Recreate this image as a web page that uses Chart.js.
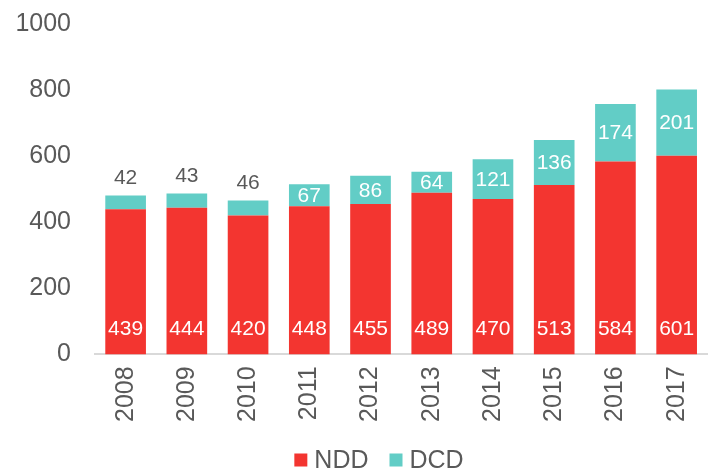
<!DOCTYPE html>
<html>
<head>
<meta charset="utf-8">
<script src="https://cdn.jsdelivr.net/npm/chart.js@4/dist/chart.umd.min.js"></script>
<style>
  html, body { margin: 0; padding: 0; background: #fff; }
  #wrap { width: 719px; height: 473px; }
</style>
</head>
<body>
<div id="wrap"><canvas id="c"></canvas></div>
<script>
const years = ["2008", "2009", "2010", "2011", "2012", "2013", "2014", "2015", "2016", "2017"];
const ndd = [439, 444, 420, 448, 455, 489, 470, 513, 584, 601];
const dcd = [42, 43, 46, 67, 86, 64, 121, 136, 174, 201];
const yTicks = [0, 200, 400, 600, 800, 1000];

const RED = "#F33530";
const TEAL = "#62CDC6";
const TEXT = "#595959";
const FONT = "Arial, 'Liberation Sans', sans-serif";

// labels inside / above the bars
const barLabels = {
  id: "barLabels",
  afterDatasetsDraw(chart) {
    const ctx = chart.ctx;
    ctx.save();
    ctx.font = "21px " + FONT;
    ctx.textAlign = "center";
    ctx.textBaseline = "middle";
    const base = chart.scales.y.getPixelForValue(0);
    chart.getDatasetMeta(0).data.forEach((bar, i) => {
      ctx.fillStyle = "#fff";
      ctx.fillText(ndd[i], bar.x, base - 25);
    });
    chart.getDatasetMeta(1).data.forEach((bar, i) => {
      const h = bar.base - bar.y;
      if (h < 18) {
        ctx.fillStyle = TEXT;
        ctx.fillText(dcd[i], bar.x, bar.y - 17);
      } else {
        ctx.fillStyle = "#fff";
        ctx.fillText(dcd[i], bar.x, (bar.y + bar.base) / 2 + 1);
      }
    });
    ctx.restore();
  }
};

// legend drawn by hand, centred under the plot
const bottomLegend = {
  id: "bottomLegend",
  afterDraw(chart) {
    const ctx = chart.ctx;
    ctx.save();
    ctx.font = "25px " + FONT;
    ctx.textBaseline = "middle";
    const items = chart.data.datasets.map(ds => ({ text: ds.label, color: ds.backgroundColor }));
    const box = 13, gap = 7, between = 21;
    const widths = items.map(it => box + gap + ctx.measureText(it.text).width);
    const total = widths.reduce((a, b) => a + b, 0) + between * (items.length - 1);
    let x = 379 - total / 2;
    const y = 460;
    items.forEach((it, i) => {
      ctx.fillStyle = it.color;
      ctx.fillRect(x, y - box / 2, box, box);
      ctx.fillStyle = TEXT;
      ctx.fillText(it.text, x + box + gap, y + 1);
      x += widths[i] + between;
    });
    ctx.restore();
  }
};

new Chart(document.getElementById("c"), {
  type: "bar",
  data: {
    labels: years,
    datasets: [
      { label: "NDD", data: ndd, backgroundColor: RED },
      { label: "DCD", data: dcd, backgroundColor: TEAL }
    ]
  },
  options: {
    responsive: true,
    maintainAspectRatio: false,
    animation: false,
    layout: { padding: { left: 0, right: 7, top: 0, bottom: 39 } },
    datasets: { bar: { categoryPercentage: 0.8, barPercentage: 0.83 } },
    scales: {
      x: {
        stacked: true,
        grid: { display: false, drawTicks: false },
        border: { display: true, color: "#D9D9D9", width: 2 },
        ticks: {
          color: TEXT,
          font: { family: FONT, size: 25 },
          minRotation: 90,
          maxRotation: 90,
          padding: 12
        }
      },
      y: {
        stacked: true,
        min: 0,
        max: 1000,
        afterBuildTicks: (axis) => { axis.ticks = yTicks.map(v => ({ value: v })); },
        afterFit: (axis) => {
          axis.width = 95;
          axis.paddingTop = 24;
          axis.paddingBottom = 15;
        },
        grid: { display: false, drawTicks: false },
        border: { display: false },
        ticks: {
          color: TEXT,
          font: { family: FONT, size: 25 },
          padding: 24,
          callback: (v) => String(v)
        }
      }
    },
    plugins: {
      legend: { display: false },
      tooltip: { enabled: false }
    }
  },
  plugins: [barLabels, bottomLegend]
});
</script>
</body>
</html>
